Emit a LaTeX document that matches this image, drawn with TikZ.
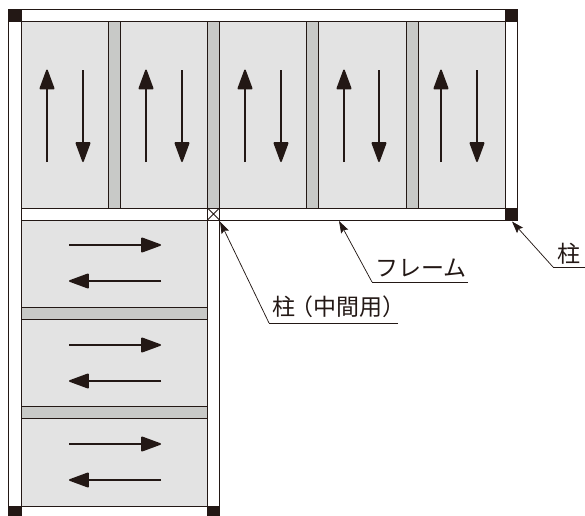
\documentclass[tikz,border=0pt]{standalone}
\usepackage{fontspec}
\setmainfont{Noto Sans CJK JP}
\usetikzlibrary{arrows.meta}
\definecolor{ink}{HTML}{231815}
\definecolor{panel}{HTML}{E3E3E3}
\definecolor{bar}{HTML}{C8C9C7}
\tikzset{
  x=0.75pt,y=-0.75pt,
  frameline/.style={draw=ink,line width=0.7pt},
  panelbox/.style={frameline,fill=panel},
  barbox/.style={frameline,fill=bar},
  framebox/.style={frameline,fill=white},
  postbox/.style={fill=ink,draw=ink,line width=0.4pt},
  flow/.style={draw=ink,line width=1.2pt,-{Triangle[length=16pt,width=11.5pt,round=false]}},
  leader/.style={draw=ink,line width=0.55pt},
  leaderarrow/.style={leader,-{Stealth[length=9pt,width=6pt,inset=1.5pt]}},
  lbl/.style={font=\fontsize{17.25}{17.25}\selectfont,text=ink,inner sep=0pt,anchor=base},
  lblleft/.style={lbl,anchor=base west}
}
\begin{document}
\begin{tikzpicture}
\useasboundingbox (0,0) rectangle (585,515);
% frame members
\path[framebox] (8.7,9.5) rectangle (517,21.5);
\path[framebox] (8.7,9.5) rectangle (21,520);
\path[framebox] (207.5,208) rectangle (219.5,520);
\path[framebox] (505,9.5) rectangle (517,220);
\path[framebox] (21,208) rectangle (517,220);
% upper panels
\foreach \a/\b in {21/108,120.5/207.5,219.5/306.5,318.5/406,418/505}
  \path[panelbox] (\a,21.5) rectangle (\b,208);
\foreach \a/\b in {108/120.5,207.5/219.5,306.5/318.5,406/418}
  \path[barbox] (\a,21.5) rectangle (\b,208);
% lower panels
\foreach \a/\b in {220/307.3,319.3/406.7,418.7/506}
  \path[panelbox] (21,\a) rectangle (207.5,\b);
\foreach \a/\b in {307.3/319.3,406.7/418.7}
  \path[barbox] (21,\a) rectangle (207.5,\b);
% posts
\path[postbox] (8.7,9.5) rectangle (21.5,21.5);
\path[postbox] (505,9.5) rectangle (517,21.5);
\path[postbox] (505,208) rectangle (517,220);
\path[postbox] (8.7,506) rectangle (21.5,516);
\path[postbox] (207.5,506) rectangle (219.5,516);
\draw[framebox] (207.5,208) rectangle (219.5,220);
\draw[leader] (207.5,208) -- (219.5,220) (219.5,208) -- (207.5,220);
% flow arrows
\foreach \u/\d in {47/83,146/182,245/281,344/379,441/477}{
  \path[flow] (\u,162) -- (\u,69.5);
  \path[flow] (\d,70) -- (\d,162);
}
\foreach \r/\l in {245/281,345/381,444/480}{
  \path[flow] (69,\r) -- (161,\r);
  \path[flow] (161,\l) -- (69,\l);
}
% labels
\node[lbl] (post) at (569,262) {柱};
\node[lbl] (frm) at (421,276) {フレーム};
\node[lblleft] (mid) at (272,315.5) {柱\hspace{-0.2em}（中間用）};
\coordinate (postA) at (553,267);
\coordinate (postB) at (585,267);
\coordinate (frmA) at (372,282);
\coordinate (frmB) at (468,282);
\coordinate (midA) at (269,323);
\coordinate (midB) at (398,323);
\coordinate (postTip) at (512,221.5);
\coordinate (frmTip) at (339,221);
\coordinate (midTip) at (220,221.5);
\draw[leader] (postB) -- (postA);
\draw[leaderarrow] (postA) -- (postTip);
\draw[leader] (frmB) -- (frmA);
\draw[leaderarrow] (frmA) -- (frmTip);
\draw[leader] (midB) -- (midA);
\draw[leaderarrow] (midA) -- (midTip);
\end{tikzpicture}
\end{document}
